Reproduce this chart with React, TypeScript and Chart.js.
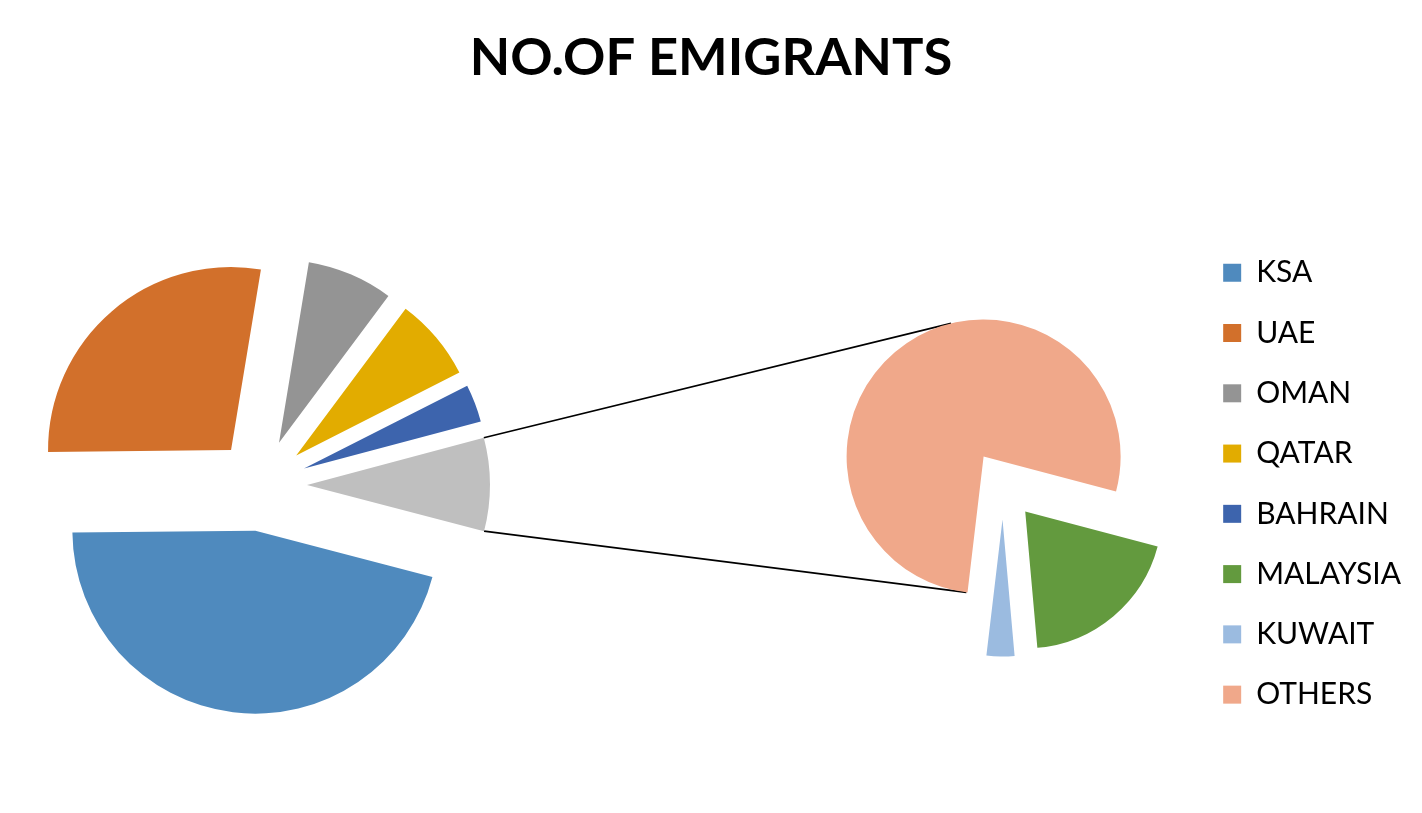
import React, { useEffect, useRef } from 'react';
import { Chart, registerables } from 'chart.js';

Chart.register(...registerables);

// ---------- data ----------
const TITLE = 'NO.OF EMIGRANTS';
const MAIN_LABELS = ['KSA', 'UAE', 'OMAN', 'QATAR', 'BAHRAIN'];
const MAIN_VALUES = [45.76, 27.78, 7.59, 7.33, 3.32];
const SPLIT_LABELS = ['MALAYSIA', 'KUWAIT', 'OTHERS'];
const SPLIT_VALUES = [1.6, 0.27, 6.35];
const COMBINED_LABEL = 'Other';

// ---------- styles ----------
const MAIN_COLORS = ['#4F8ABE', '#D2702B', '#949494', '#E2AC00', '#3D64AD'];
const SPLIT_COLORS = ['#639A3E', '#9BBBE0', '#F0A88A'];
const COMBINED_COLOR = '#BFBFBF';
const FONT = 'Lato, "Open Sans", sans-serif';
const TEXT_COLOR = '#000000';

const MAIN = { cx: 261, cy: 485, r: 183, explode: 46, rotation: 104.65, size: 480 };
const SPLIT = { cx: 1003, cy: 485, r: 137, explode: 34.5, rotation: 104.85, size: 364 };
const W = 1422;
const H = 813;

const explodePlugin = (amount: number) => ({
  id: 'explodeSlices',
  beforeDatasetDraw(chart: any, args: any) {
    const ctx = chart.ctx;
    args.meta.data.forEach((arc: any) => {
      const mid = (arc.startAngle + arc.endAngle) / 2;
      ctx.save();
      ctx.translate(Math.cos(mid) * amount, Math.sin(mid) * amount);
      arc.draw(ctx, chart.chartArea);
      ctx.restore();
    });
    return false;
  },
});

function pieConfig(labels: string[], values: number[], colors: string[], geo: typeof MAIN) {
  return {
    type: 'pie' as const,
    data: {
      labels,
      datasets: [
        {
          data: values,
          backgroundColor: colors,
          borderWidth: 0,
          radius: geo.r,
          rotation: geo.rotation,
        },
      ],
    },
    options: {
      responsive: false,
      animation: false as const,
      events: [] as any[],
      layout: { padding: 0 },
      plugins: { legend: { display: false }, title: { display: false }, tooltip: { enabled: false } },
    },
    plugins: [explodePlugin(geo.explode)],
  };
}

export default function App() {
  const frameRef = useRef<HTMLCanvasElement>(null);
  const mainRef = useRef<HTMLCanvasElement>(null);
  const splitRef = useRef<HTMLCanvasElement>(null);

  useEffect(() => {
    const combinedValue = SPLIT_VALUES.reduce((s, v) => s + v, 0);
    const mainChart = new Chart(
      mainRef.current as HTMLCanvasElement,
      pieConfig(
        [...MAIN_LABELS, COMBINED_LABEL],
        [...MAIN_VALUES, combinedValue],
        [...MAIN_COLORS, COMBINED_COLOR],
        MAIN
      ) as any
    );
    const splitChart = new Chart(
      splitRef.current as HTMLCanvasElement,
      pieConfig(SPLIT_LABELS, SPLIT_VALUES, SPLIT_COLORS, SPLIT) as any
    );

    const allLabels = [...MAIN_LABELS, ...SPLIT_LABELS];
    const allColors = [...MAIN_COLORS, ...SPLIT_COLORS];

    const connectorPlugin = {
      id: 'connectors',
      afterDraw(chart: any) {
        const ctx = chart.ctx;
        const base = chart.canvas.getBoundingClientRect();
        const aRect = mainChart.canvas.getBoundingClientRect();
        const bRect = splitChart.canvas.getBoundingClientRect();
        const aMeta = mainChart.getDatasetMeta(0);
        const comb: any = aMeta.data[aMeta.data.length - 1];
        const midA = (comb.startAngle + comb.endAngle) / 2;
        const ax = aRect.left - base.left + comb.x + Math.cos(midA) * MAIN.explode;
        const ay = aRect.top - base.top + comb.y + Math.sin(midA) * MAIN.explode;
        const ra = comb.outerRadius;
        const e1 = { x: ax + ra * Math.cos(comb.startAngle), y: ay + ra * Math.sin(comb.startAngle) };
        const e2 = { x: ax + ra * Math.cos(comb.endAngle), y: ay + ra * Math.sin(comb.endAngle) };
        const top = e1.y < e2.y ? e1 : e2;
        const bottom = e1.y < e2.y ? e2 : e1;

        const bMeta = splitChart.getDatasetMeta(0);
        const big: any = (bMeta.data as any[]).reduce((m: any, e: any) => (e.circumference > m.circumference ? e : m));
        const midB = (big.startAngle + big.endAngle) / 2;
        const bx = bRect.left - base.left + big.x + Math.cos(midB) * SPLIT.explode;
        const by = bRect.top - base.top + big.y + Math.sin(midB) * SPLIT.explode;
        const rb = big.outerRadius;
        const tangent = (p: { x: number; y: number }, sign: number) => {
          const dx = p.x - bx;
          const dy = p.y - by;
          const d = Math.hypot(dx, dy);
          const ang = Math.atan2(dy, dx) + sign * Math.acos(rb / d);
          return { x: bx + rb * Math.cos(ang), y: by + rb * Math.sin(ang) };
        };
        const t1 = tangent(top, 1);
        const t2 = tangent(bottom, -1);
        ctx.save();
        ctx.strokeStyle = '#000';
        ctx.lineWidth = 1.6;
        ctx.beginPath();
        ctx.moveTo(top.x, top.y);
        ctx.lineTo(t1.x, t1.y);
        ctx.moveTo(bottom.x, bottom.y);
        ctx.lineTo(t2.x, t2.y);
        ctx.stroke();
        ctx.restore();
      },
    };

    const frameChart = new Chart(frameRef.current as HTMLCanvasElement, {
      type: 'pie',
      data: { labels: allLabels, datasets: [{ data: [], backgroundColor: allColors }] },
      options: {
        responsive: false,
        animation: false,
        events: [],
        color: TEXT_COLOR,
        layout: { padding: { left: 11, right: 11, top: 0, bottom: 0 } },
        plugins: {
          tooltip: { enabled: false },
          title: {
            display: true,
            text: TITLE,
            color: TEXT_COLOR,
            font: { family: FONT, size: 52.5, weight: 'bold' },
            padding: { top: 27, bottom: 20 },
          },
          legend: {
            display: true,
            position: 'right',
            align: 'center',
            title: { display: true, text: '', color: TEXT_COLOR, padding: { top: 140, bottom: 0 } },
            labels: {
              color: TEXT_COLOR,
              font: { family: FONT, size: 30 },
              boxWidth: 18,
              boxHeight: 18,
              padding: 30.27,
              generateLabels: () =>
                allLabels.map((text, i) => ({
                  text,
                  fillStyle: allColors[i],
                  strokeStyle: allColors[i],
                  fontColor: TEXT_COLOR,
                  lineWidth: 0,
                  hidden: false,
                  index: i,
                })),
            },
          },
        },
      },
      plugins: [connectorPlugin],
    } as any);

    return () => {
      frameChart.destroy();
      splitChart.destroy();
      mainChart.destroy();
    };
  }, []);

  const abs = (geo: typeof MAIN): React.CSSProperties => ({
    position: 'absolute',
    left: geo.cx - geo.size / 2,
    top: geo.cy - geo.size / 2,
  });

  return (
    <div style={{ position: 'fixed', left: 0, top: 0, width: W, height: H, background: '#fff', overflow: 'hidden' }}>
      <canvas ref={frameRef} width={W} height={H} style={{ position: 'absolute', left: 0, top: 0 }} />
      <canvas ref={mainRef} width={MAIN.size} height={MAIN.size} style={abs(MAIN)} />
      <canvas ref={splitRef} width={SPLIT.size} height={SPLIT.size} style={abs(SPLIT)} />
    </div>
  );
}
